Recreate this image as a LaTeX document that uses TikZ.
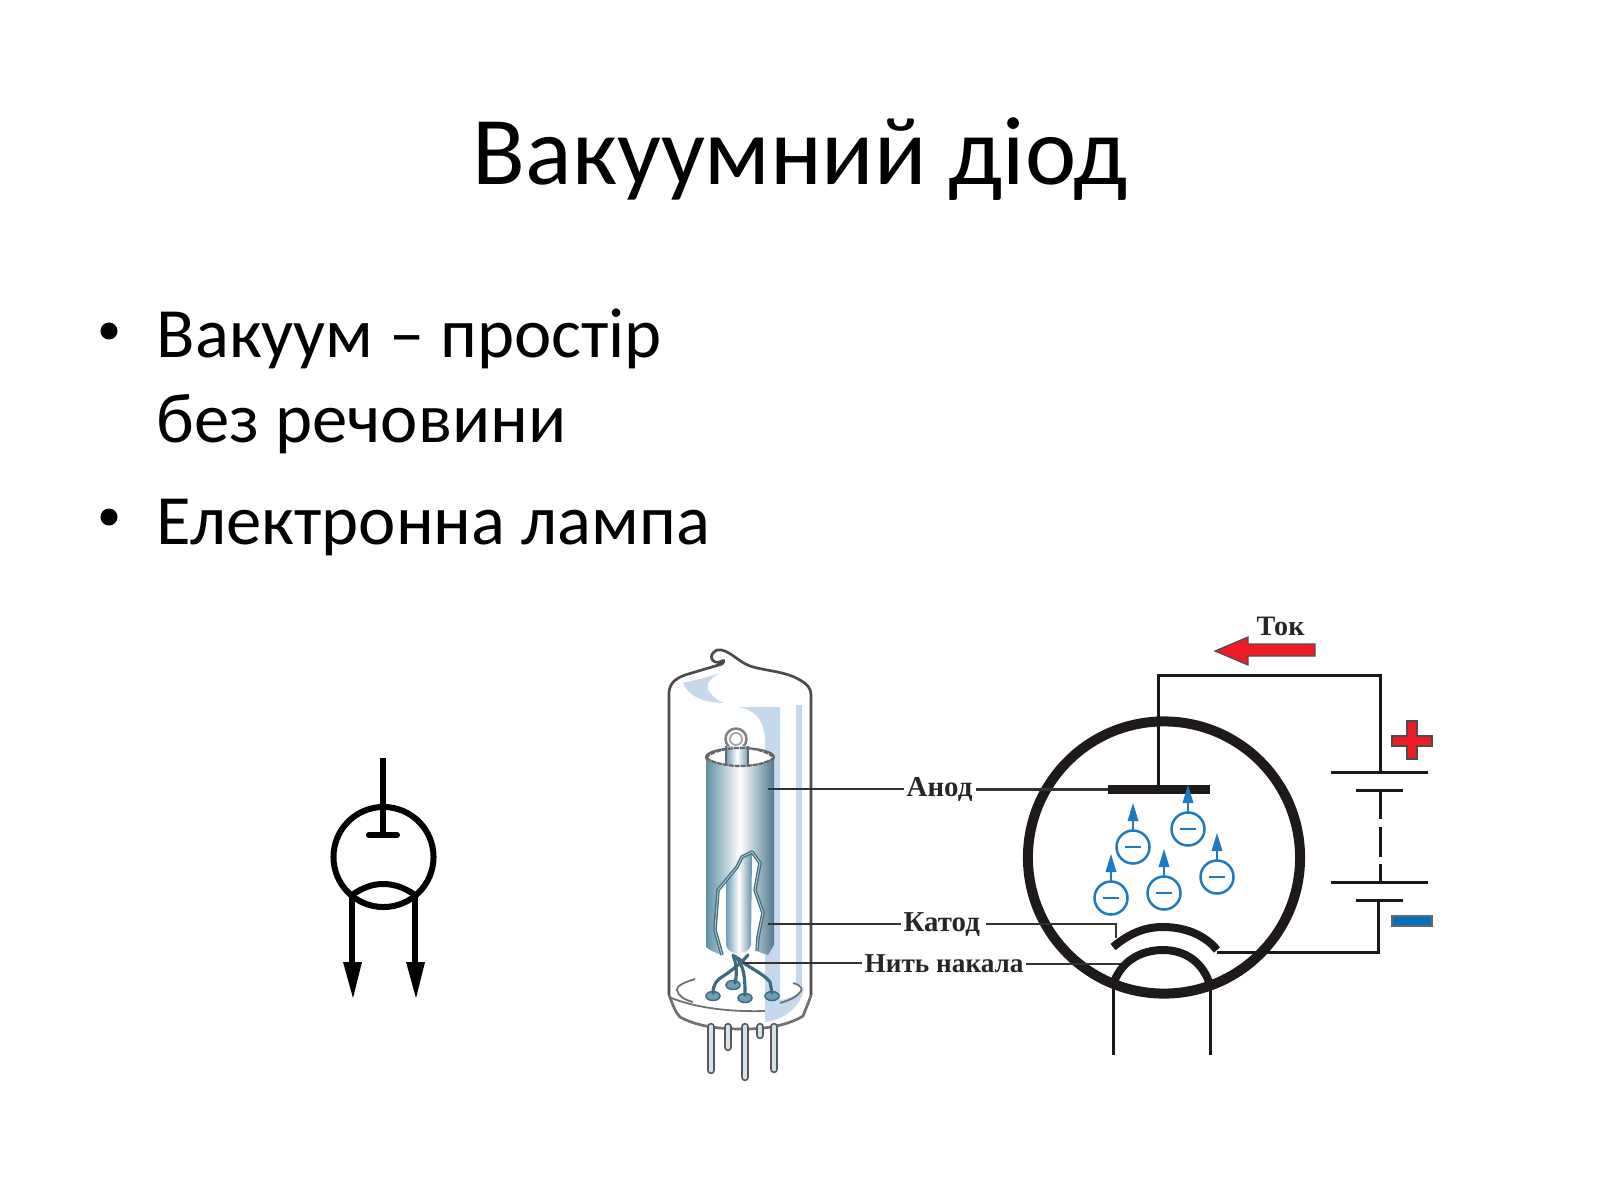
\documentclass[tikz,border=0pt]{standalone}
\usepackage{fontspec}
\setmainfont{Carlito}
\newfontfamily\lblfont{Liberation Serif}
\definecolor{glassgrey}{HTML}{707070}
\definecolor{reflect}{HTML}{C6D9EC}
\definecolor{steel}{HTML}{6F9FB8}
\definecolor{steeldark}{HTML}{5F90A8}
\definecolor{wireteal}{HTML}{3F6B80}
\definecolor{eblue}{HTML}{1F7AC4}
\definecolor{tokred}{HTML}{ED1C24}
\definecolor{minusblue}{HTML}{0070C0}
\definecolor{ink}{HTML}{1E1A1B}
\tikzset{
  titletext/.style={font=\fontsize{27.6pt}{33pt}\selectfont,inner sep=0pt,anchor=base west},
  bodytext/.style={font=\fontsize{20.1pt}{24.2pt}\selectfont,inner sep=0pt,anchor=base west},
  lbl/.style={font=\lblfont\bfseries\fontsize{8.2pt}{10pt}\selectfont,text=black!85,inner sep=0pt,anchor=base west},
  leader/.style={draw=black!80,line width=0.022cm},
  wire/.style={draw=black!90,line width=0.03cm},
  glass/.style={draw=glassgrey,line width=0.027cm},
  sym/.style={draw=black,line width=0.06cm},
  pinwire/.style={wireteal,line width=0.032cm,line cap=round},
}
\begin{document}
\begin{tikzpicture}[x=0.01cm,y=-0.01cm]
\useasboundingbox (0,0) rectangle (1600,1200);
% ---- text
\node[titletext] (title) at (472,184) {Вакуумний діод};
\node[bodytext] (b1) at (156,357) {Вакуум – простір};
\node[bodytext] (b2) at (156,442) {без речовини};
\node[bodytext] (b3) at (156,544) {Електронна лампа};
\fill (109,331) circle (0.085cm);
\fill (109,517) circle (0.085cm);
% ---- diode symbol
\draw[sym] (383,758) -- (383,835);
\draw[sym,line cap=round] (369,835) -- (397,835);
\draw[sym] (383.5,857) circle (0.5cm);
\draw[sym] (352,895) .. controls (362,888) and (372,884) .. (383,884) .. controls (395,884) and (405,888) .. (415,895);
\draw[sym,line width=0.065cm] (352,895) -- (352,965);
\draw[sym,line width=0.065cm] (415,895) -- (415,965);
\fill (343,962) -- (362,962) -- (353,998) -- cycle;
\fill (406,962) -- (425,962) -- (416,998) -- cycle;
% ---- bulb reflections
\fill[reflect] (722,672) .. controls (705,680) and (700,690) .. (723,703) .. controls (700,702) and (688,695) .. (683,683) .. controls (695,680) and (710,677) .. (722,672) -- cycle;
\fill[reflect] (737,707) -- (780,707) -- (780,1000) .. controls (790,998) and (798,995) .. (804,988) .. controls (802,1005) and (785,1020) .. (765,1022) -- (765,743) .. controls (765,720) and (755,709) .. (737,707) -- cycle;
\fill[reflect] (796,705) rectangle (802,985);
% ---- glass envelope
\draw[glass,draw=black!70] (669,995) -- (669,692) .. controls (670,682) and (677,678) .. (685,675) -- (722,664) .. controls (725,661) and (724,659) .. (720,662) .. controls (712,664) and (707,655) .. (717,650) .. controls (728,648) and (738,662) .. (750,666) .. controls (765,671) and (785,671) .. (800,680) .. controls (807,684) and (811,688) .. (811,695) -- (811,995);
\draw[glass] (669,995) .. controls (673,1005) and (675,1012) .. (680,1017) .. controls (700,1028) and (725,1029) .. (745,1029) .. controls (770,1029) and (790,1024) .. (803,1016) .. controls (806,1008) and (809,1002) .. (811,995);
\draw[glass,line width=0.018cm] (669,997) .. controls (695,1008) and (730,1012) .. (765,1011);
\draw[glass,line width=0.018cm] (695,979) .. controls (685,982) and (676,986) .. (677,990) .. controls (678,996) and (685,1000) .. (693,1002);
\draw[glass,line width=0.018cm] (793,983) .. controls (800,985) and (803,988) .. (801,991) .. controls (797,997) and (790,1000) .. (780,1003);
% ---- base pins
\foreach \px/\py in {728/1047,760/1035,711/1070,774/1069,745/1077}{
  \draw[black!65,line width=0.085cm,line cap=round] (\px,1027) -- (\px,\py);
  \draw[white!70!steel,line width=0.048cm,line cap=round] (\px,1027) -- (\px,\py);
}
% ---- anode top loop
\draw[black!50,line width=0.025cm,fill=white] (736,739) circle (0.105cm);
\draw[black!35,line width=0.018cm] (736,739) circle (0.06cm);
% ---- anode cylinder
\draw[black!60,line width=0.02cm,fill=white] (740,757) ellipse (0.34cm and 0.09cm);
\shade[left color=steel,right color=steel,middle color=white]
  (726,746) rectangle (748,765);
\draw[black!60,line width=0.02cm] (726,746) -- (726,765) (748,746) -- (748,765);
\shade[left color=steeldark,right color=steeldark!85!black,middle color=white]
  (706,758) .. controls (715,764) and (730,766) .. (740,766) .. controls (752,766) and (765,764) .. (774,758)
  -- (774,945) -- (768,955) .. controls (762,953) and (760,953) .. (757,951)
  -- (758,937) -- (763,913) -- (755,890) -- (760,863) -- (752,852) -- (742,857) -- (737,867) -- (718,890) -- (715,930) -- (722,955)
  .. controls (714,952) and (709,950) .. (706,947) -- cycle;
\draw[black!60,line width=0.022cm,dash pattern=on 0.05cm off 0.01cm] (706,758) .. controls (715,764) and (730,766) .. (740,766) .. controls (752,766) and (765,764) .. (774,758);
\draw[black!60,line width=0.02cm,dash pattern=on 0.05cm off 0.01cm] (706,758) .. controls (712,751) and (728,748) .. (740,748) .. controls (752,748) and (768,751) .. (774,758);
% ---- cathode
\shade[left color=steel,right color=steeldark,middle color=white]
  (726,880) -- (737,867) -- (742,857) -- (752,852) -- (751,945) .. controls (749,951) and (745,953) .. (738,953) .. controls (731,953) and (727,950) .. (726,945) -- cycle;
\draw[wireteal,line width=0.035cm,line join=round]
  (722,955) -- (715,930) -- (718,890) -- (737,867) -- (742,857) -- (752,852) -- (760,863) -- (755,890) -- (763,913) -- (758,937) -- (757,951);
\draw[white!60!wireteal,line width=0.01cm,line join=round]
  (722,955) -- (715,930) -- (718,890) -- (737,867) -- (742,857) -- (752,852) -- (760,863) -- (755,890) -- (763,913) -- (758,937) -- (757,951);
% ---- heater leads and feet
\foreach \ex/\ey in {713/996,733/985,745/998,772/996}{
  \fill[steel] (\ex,\ey) ellipse (0.07cm and 0.045cm);
  \draw[wireteal,line width=0.015cm] (\ex,\ey) ellipse (0.07cm and 0.045cm);
}
\draw[pinwire] (748,955) .. controls (742,962) and (735,968) .. (725,975) .. controls (716,980) and (713,985) .. (713,993);
\draw[pinwire] (733,955) .. controls (737,965) and (737,975) .. (735,983);
\draw[pinwire] (735,956) .. controls (745,966) and (745,980) .. (745,995);
\draw[pinwire] (738,958) .. controls (748,968) and (762,972) .. (770,982) -- (772,993);
% ---- labels with leaders
\coordinate (anodepoint) at (768,789);
\coordinate (catpoint) at (768,924);
\coordinate (heatpoint) at (743,963);
\node[lbl] (lanod) at (906,796) {Анод};
\node[lbl] (lkat) at (903,931) {Катод};
\node[lbl,font=\lblfont\bfseries\fontsize{7.75pt}{10pt}\selectfont] (lnit) at (864,972) {Нить накала};
\node[lbl,font=\lblfont\bfseries\fontsize{8pt}{9pt}\selectfont] (ltok) at (1256,635) {Ток};
% ---- tube schematic
\draw[ink,line width=0.1cm] (1164,857.5) circle (1.36cm);
\coordinate (anodeL) at (1108,789.5);
\coordinate (anodeR) at (1210,789.5);
\coordinate (anodetop) at (1158,789.5);
\coordinate (cornerTL) at (1158,675);
\coordinate (cornerTR) at (1380,675);
\coordinate (plate1) at (1380,772);
\coordinate (plate2) at (1380,790);
\coordinate (plate3) at (1380,882);
\coordinate (plate4) at (1378,900);
\coordinate (cornerBR) at (1378,952);
\coordinate (catend) at (1217,952);
\coordinate (katbend) at (1116,924);
\coordinate (katend) at (1116,938);
\coordinate (heatend) at (1122,964);
\draw[leader] (anodepoint) -- ([xshift=-0.02cm]lanod.west |- anodepoint);
\draw[leader] ([xshift=0.03cm]lanod.east |- anodeL) -- (anodeL);
\draw[leader] (catpoint) -- ([xshift=-0.02cm]lkat.west |- catpoint);
\draw[leader] ([xshift=0.05cm]lkat.east |- katbend) -- (katbend) -- (katend);
\draw[leader] (heatpoint) -- ([xshift=-0.02cm]lnit.west |- heatpoint);
\draw[leader] ([xshift=0.02cm]lnit.east |- heatend) -- (heatend);
\draw[ink,line width=0.09cm] (anodeL) -- (anodeR);
\draw[wire] (anodetop) -- (cornerTL) -- (cornerTR) -- (plate1);
\draw[wire] (1331,772) -- (1428,772);
\draw[wire] (1356,790) -- (1403,790);
\draw[wire] (1331,882) -- (1428,882);
\draw[wire] (1356,900) -- (1403,900);
\draw[wire] (plate2) -- (1380,819) (1380,827) -- (1380,857) (1380,864) -- (plate3);
\draw[wire] (plate4) -- (cornerBR) -- (catend);
\draw[ink,line width=0.08cm] (1113,947) .. controls (1130,933) and (1145,927) .. (1163,927) .. controls (1185,927) and (1205,935) .. (1217,950);
\draw[ink,line width=0.08cm] (1113,985) .. controls (1120,962) and (1140,950) .. (1163,950) .. controls (1185,950) and (1203,962) .. (1210,985);
\draw[wire] (1113,983) -- (1113,1055);
\draw[wire] (1210,983) -- (1210,1055);
% ---- electrons
\foreach \cx/\cy in {1133/847,1188/829,1111/898,1164/893,1217/877}{
  \draw[eblue,line width=0.025cm] (\cx,\cy) circle (0.165cm);
  \draw[eblue,line width=0.025cm] (\cx-8,\cy) -- (\cx+8,\cy);
  \draw[eblue,line width=0.02cm] (\cx,\cy-17) -- (\cx,\cy-28);
  \fill[eblue] (\cx-5.5,\cy-26) -- (\cx+5.5,\cy-26) -- (\cx,\cy-44) -- cycle;
}
% ---- current arrow and polarity marks
\draw[black!70,fill=tokred,line width=0.012cm] (1215,651) -- (1248,637) -- (1248,644) -- (1315,644) -- (1315,656) -- (1248,656) -- (1248,665) -- cycle;
\draw[black!70,fill=tokred,line width=0.012cm] (1407,721) -- (1417,721) -- (1417,736) -- (1432,736) -- (1432,746) -- (1417,746) -- (1417,759) -- (1407,759) -- (1407,746) -- (1392,746) -- (1392,736) -- (1407,736) -- cycle;
\draw[black!60,fill=minusblue,line width=0.012cm] (1392,916) rectangle (1432,926);
\end{tikzpicture}
\end{document}
